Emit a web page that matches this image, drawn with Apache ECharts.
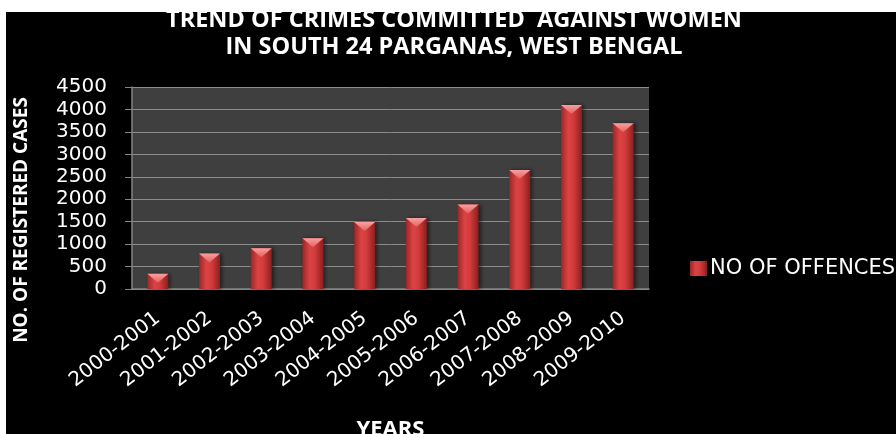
<!DOCTYPE html>
<html>
<head>
<meta charset="utf-8">
<script src="https://cdn.jsdelivr.net/npm/echarts@6/dist/echarts.min.js"></script>
<style>
  html, body { margin: 0; padding: 0; background: #fff; }
  #chart { width: 896px; height: 434px; }
</style>
</head>
<body>
<div id="chart"></div>
<script>
// Data
const years = ["2000-2001", "2001-2002", "2002-2003", "2003-2004", "2004-2005",
  "2005-2006", "2006-2007", "2007-2008", "2008-2009", "2009-2010"];
const offences = [340, 790, 910, 1130, 1490, 1580, 1880, 2650, 4100, 3690];
const seriesName = "NO OF OFFENCES";
const yMin = 0;
const yMax = 4500;
const yStep = 500;

const titleLines = ["TREND OF CRIMES COMMITTED  AGAINST WOMEN", "IN SOUTH 24 PARGANAS, WEST BENGAL"];
const xTitle = "YEARS";
const yTitle = "NO. OF REGISTERED CASES";

const LABEL_FONT = "DejaVu Sans";
const TITLE_FONT = "Open Sans";

const chart = echarts.init(document.getElementById("chart"));

// red cylinder look: dark edges, lighter middle
const barColor = new echarts.graphic.LinearGradient(0, 0, 1, 0, [
  { offset: 0, color: "#9c2626" },
  { offset: 0.35, color: "#dc4444" },
  { offset: 0.6, color: "#d23b3b" },
  { offset: 1, color: "#8a1f1f" },
]);

const option = {
  animation: false,
  backgroundColor: "#000",
  title: {
    text: titleLines.join("\n"),
    left: 454,
    top: 7,
    padding: 0,
    textAlign: "center",
    textStyle: {
      color: "#fff",
      fontFamily: TITLE_FONT,
      fontWeight: "bold",
      fontSize: 23.5,
      lineHeight: 27,
    },
  },
  legend: {
    data: [seriesName],
    left: 690,
    top: 258,
    padding: 0,
    orient: "vertical",
    icon: "rect",
    itemWidth: 17,
    itemHeight: 15,
    itemGap: 6,
    textStyle: {
      color: "#fff",
      fontFamily: LABEL_FONT,
      fontSize: 21,
      padding: [0, 0, 0, -2],
    },
  },
  grid: {
    left: 132,
    right: 247,
    top: 87,
    bottom: 145,
    outerBoundsMode: "none",
    show: true,
    backgroundColor: "#3f3f3f",
    borderWidth: 0,
  },
  xAxis: {
    type: "category",
    data: years,
    name: xTitle,
    nameLocation: "middle",
    nameGap: 130,
    nameTextStyle: {
      color: "#fff",
      fontFamily: TITLE_FONT,
      fontWeight: "bold",
      fontSize: 22,
    },
    axisLine: { lineStyle: { color: "#858585", width: 1.5 } },
    axisTick: { show: false },
    axisLabel: {
      color: "#fff",
      fontFamily: LABEL_FONT,
      fontSize: 20,
      rotate: 38,
      margin: 27,
      interval: 0,
    },
  },
  yAxis: {
    type: "value",
    min: yMin,
    max: yMax,
    interval: yStep,
    axisLine: { show: true, lineStyle: { color: "#858585", width: 1.5 } },
    axisTick: { show: true, length: 7, lineStyle: { color: "#858585" } },
    axisLabel: {
      color: "#fff",
      fontFamily: LABEL_FONT,
      fontSize: 20,
      margin: 25,
      formatter: (value) => String(value),
    },
    splitLine: { lineStyle: { color: "#8c8c8c", width: 1 } },
  },
  graphic: [
    {
      type: "text",
      x: 22,
      y: 220,
      rotation: Math.PI / 2,
      style: {
        text: yTitle,
        fill: "#fff",
        font: `bold 19px "${TITLE_FONT}"`,
        textAlign: "center",
        textVerticalAlign: "middle",
      },
    },
    // white margin of the original screenshot
    { type: "rect", z: 100, shape: { x: 0, y: 0, width: 896, height: 12 }, style: { fill: "#fff" } },
    { type: "rect", z: 100, shape: { x: 0, y: 0, width: 6, height: 434 }, style: { fill: "#fff" } },
  ],
  series: [
    {
      name: seriesName,
      type: "bar",
      data: offences,
      barWidth: 21,
      itemStyle: {
        color: barColor,
        shadowColor: "rgba(0,0,0,0.55)",
        shadowBlur: 4,
        shadowOffsetX: 2,
      },
    },
    {
      // light chevron on top of each bar
      name: "cap",
      type: "pictorialBar",
      data: offences,
      symbol: "path://M0,0 L21,0 L10.5,9 Z",
      symbolSize: [21, 9],
      symbolPosition: "end",
      symbolOffset: [0, 0],
      barWidth: 21,
      z: 3,
      itemStyle: {
        color: new echarts.graphic.LinearGradient(0, 0, 0, 1, [
          { offset: 0, color: "#f7a0a0" },
          { offset: 1, color: "#e46060" },
        ]),
      },
    },
  ],
};

chart.setOption(option);
</script>
</body>
</html>
